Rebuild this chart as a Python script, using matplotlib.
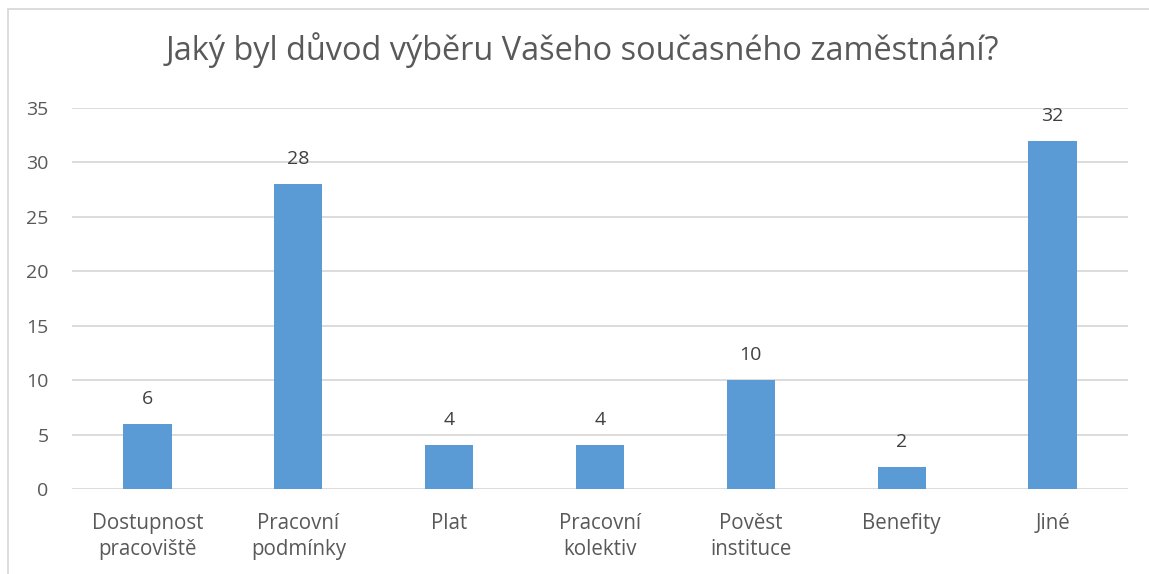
import matplotlib
matplotlib.use("Agg")
import matplotlib.pyplot as plt
from matplotlib.patches import Rectangle

categories = ["Dostupnost\npracoviště", "Pracovní\npodmínky", "Plat", "Pracovní\nkolektiv",
              "Pověst\ninstituce", "Benefity", "Jiné"]
values = [6, 28, 4, 4, 10, 2, 32]
yticks = [0, 5, 10, 15, 20, 25, 30, 35]
title = "Jaký byl důvod výběru Vašeho současného zaměstnání?"

plt.rcParams['font.family'] = ['Open Sans', 'DejaVu Sans']

W, H = 1149, 574
fig = plt.figure(figsize=(W/100, H/100), dpi=100)
ax = fig.add_axes([72/W, 1-489/H, (1128-72)/W, (489-108)/H])

x = list(range(len(categories)))
bars = ax.bar(x, values, width=0.32, color="#5B9BD5", zorder=3)
ax.set_xlim(-0.5, len(categories)-0.5)
ax.set_ylim(0, 35)
ax.set_yticks(yticks)
ax.set_yticklabels([str(t) for t in yticks])
ax.set_xticks(x)
ax.set_xticklabels(categories, linespacing=1.35)
ax.yaxis.grid(True, color="#D9D9D9", linewidth=1.3, zorder=0)
for s in ax.spines.values():
    s.set_visible(False)
ax.tick_params(axis='y', length=0, labelsize=14, colors="#595959", pad=17)
ax.tick_params(axis='x', length=0, labelsize=14.8, colors="#595959", pad=17)

for xi, v in zip(x, values):
    ax.annotate(str(v), (xi, v), xytext=(0, 11.5), textcoords="offset points",
                ha="center", va="bottom", fontsize=14, color="#404040")

fig.text(582/W, 1-50/H, title, ha="center", va="center", fontsize=23.4, color="#595959")

# outer chart border (top and left visible)
fig.add_artist(Rectangle((7.5/W, -0.05), 1.2, 1 - 8.5/H + 0.05, transform=fig.transFigure,
                         fill=False, edgecolor="#D9D9D9", linewidth=1.3))

fig.savefig("out.png", dpi=100)
